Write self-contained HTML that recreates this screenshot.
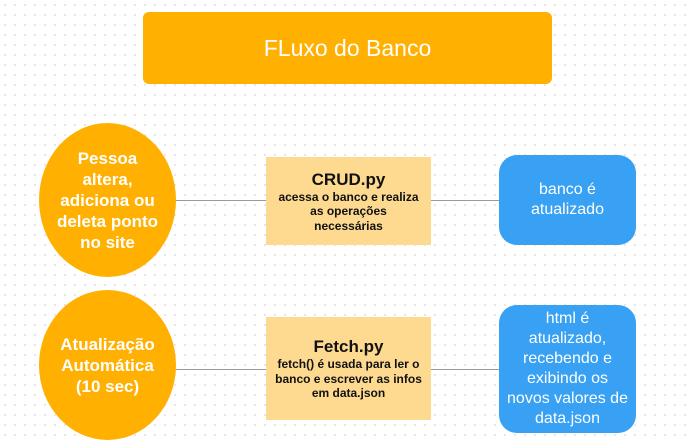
<!DOCTYPE html><html><head><style>
body{margin:0;width:686px;height:444px;overflow:hidden;background:#fff;background-image:radial-gradient(#ddd 0.8px,transparent 1px);background-size:10px 10px;font-family:"Liberation Sans",sans-serif;position:relative}
div{position:absolute;box-sizing:border-box;display:flex;align-items:center;justify-content:center;text-align:center;flex-direction:column}
.o{background:#ffb000;color:#fff}
.c{border-radius:50%;font-weight:bold;font-size:17px;line-height:21px}
.y{background:#fdda8f;color:#111;font-weight:bold;font-size:12px;line-height:14.5px}
.y b{font-size:17px;line-height:21px}
.b{background:#38a1f3;color:#fff;border-radius:18px;font-size:16px;line-height:20px}
.l{height:1px;background:#999;display:block}
</style></head><body>
<div class="o" style="left:143px;top:12px;width:409px;height:72px;border-radius:6px;font-size:23px">FLuxo do Banco</div>
<div class="l" style="left:175px;top:200px;width:91px"></div>
<div class="l" style="left:431px;top:200px;width:68px"></div>
<div class="l" style="left:175px;top:369px;width:91px"></div>
<div class="l" style="left:431px;top:369px;width:68px"></div>
<div class="o c" style="left:39px;top:123px;width:137px;height:154px">Pessoa<br>altera,<br>adiciona ou<br>deleta ponto<br>no site</div>
<div class="o c" style="left:39px;top:290px;width:137px;height:150px">Atualização<br>Automática<br>(10 sec)</div>
<div class="y" style="left:266px;top:157px;width:165px;height:88px"><b>CRUD.py</b>acessa o banco e realiza<br>as operações<br>necessárias</div>
<div class="y" style="left:266px;top:317px;width:165px;height:103px"><b>Fetch.py</b>fetch() é usada para ler o<br>banco e escrever as infos<br>em data.json</div>
<div class="b" style="left:499px;top:155px;width:137px;height:90px">banco é<br>atualizado</div>
<div class="b" style="left:499px;top:305px;width:137px;height:128px">html é<br>atualizado,<br>recebendo e<br>exibindo os<br>novos valores de<br>data.json</div>
</body></html>
